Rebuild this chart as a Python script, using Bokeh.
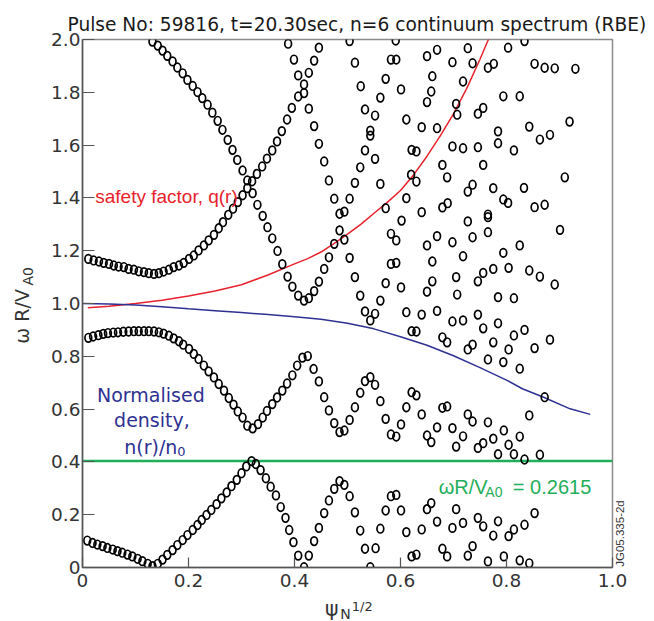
import math
from bokeh.plotting import figure
from bokeh.models import Range1d, Label, FixedTicker
from bokeh.embed import file_html
from bokeh.resources import INLINE

# ---------------- data ----------------
x_ticks = [0, 0.2, 0.4, 0.6, 0.8, 1.0]
x_tick_labels = ["0", "0.2", "0.4", "0.6", "0.8", "1.0"]
y_ticks = [0, 0.2, 0.4, 0.6, 0.8, 1.0, 1.2, 1.4, 1.6, 1.8, 2.0]
y_tick_labels = ["0", "0.2", "0.4", "0.6", "0.8", "1.0", "1.2", "1.4", "1.6", "1.8", "2.0"]

# continuum branch A (starts ~1.17, rises to 2.0)
branch_a_x = [0.011, 0.021, 0.031, 0.040, 0.050, 0.059, 0.068, 0.078, 0.087, 0.097,
              0.106, 0.116, 0.125, 0.135, 0.144, 0.153, 0.163, 0.172, 0.182, 0.191,
              0.201, 0.210, 0.219, 0.229, 0.238, 0.248, 0.257, 0.265, 0.275, 0.284,
              0.293, 0.302, 0.311, 0.320, 0.329, 0.339, 0.348, 0.358, 0.367, 0.376,
              0.386, 0.395, 0.407, 0.418, 0.427, 0.437, 0.446]
branch_a_y = [1.169, 1.163, 1.159, 1.154, 1.150, 1.144, 1.140, 1.138, 1.131, 1.128,
              1.122, 1.119, 1.115, 1.112, 1.115, 1.121, 1.128, 1.138, 1.144, 1.154,
              1.169, 1.182, 1.201, 1.220, 1.239, 1.260, 1.285, 1.308, 1.336, 1.359,
              1.384, 1.410, 1.437, 1.463, 1.491, 1.519, 1.549, 1.580, 1.614, 1.653,
              1.697, 1.741, 1.784, 1.830, 1.874, 1.920, 1.969]

# continuum branch B (falls from 2.0 to ~1.0, rises again)
branch_b_x = [0.132, 0.142, 0.151, 0.160, 0.170, 0.179, 0.189, 0.198, 0.208, 0.217,
              0.226, 0.236, 0.245, 0.255, 0.264, 0.274, 0.283, 0.292, 0.302, 0.311,
              0.321, 0.330, 0.340, 0.349, 0.358, 0.368, 0.377, 0.387, 0.396, 0.407,
              0.418, 0.427, 0.437, 0.446, 0.456, 0.465, 0.475, 0.485, 0.494]
branch_b_y = [1.992, 1.977, 1.958, 1.938, 1.917, 1.894, 1.872, 1.847, 1.824, 1.801,
              1.778, 1.753, 1.723, 1.692, 1.658, 1.620, 1.582, 1.544, 1.504, 1.466,
              1.418, 1.374, 1.332, 1.289, 1.247, 1.199, 1.149, 1.102, 1.064, 1.030,
              1.011, 1.020, 1.047, 1.083, 1.131, 1.175, 1.226, 1.277, 1.242]

# continuum branch C (falls from 2.0 near 0.39)
branch_c_x = [0.388, 0.399, 0.407, 0.418, 0.427, 0.437, 0.446, 0.456, 0.465, 0.475,
              0.485, 0.494]
branch_c_y = [1.984, 1.924, 1.864, 1.797, 1.738, 1.672, 1.605, 1.538, 1.466, 1.397,
              1.340, 1.348]

# continuum branch D (starts ~0.87)
branch_d_x = [0.011, 0.020, 0.030, 0.039, 0.048, 0.058, 0.067, 0.077, 0.087, 0.097,
              0.106, 0.116, 0.125, 0.135, 0.144, 0.153, 0.163, 0.172, 0.182, 0.190,
              0.201, 0.210, 0.219, 0.229, 0.238, 0.248, 0.257, 0.267, 0.276, 0.285,
              0.293, 0.302, 0.311, 0.321, 0.331, 0.340, 0.348, 0.358, 0.367, 0.377,
              0.386, 0.396, 0.405, 0.415, 0.425, 0.436, 0.446, 0.456, 0.465, 0.475,
              0.485, 0.494]
branch_d_y = [0.870, 0.875, 0.880, 0.885, 0.888, 0.890, 0.891, 0.893, 0.894, 0.895,
              0.895, 0.895, 0.895, 0.894, 0.891, 0.886, 0.878, 0.868, 0.857, 0.844,
              0.828, 0.809, 0.790, 0.765, 0.743, 0.720, 0.695, 0.670, 0.642, 0.617,
              0.591, 0.568, 0.537, 0.527, 0.543, 0.568, 0.593, 0.619, 0.644, 0.670,
              0.697, 0.728, 0.765, 0.795, 0.801, 0.752, 0.705, 0.645, 0.595, 0.547,
              0.513, 0.519]

# continuum branch E (starts ~0.10)
branch_e_x = [0.009, 0.019, 0.028, 0.038, 0.047, 0.057, 0.066, 0.075, 0.085, 0.094,
              0.104, 0.113, 0.123, 0.132, 0.142, 0.151, 0.160, 0.170, 0.179, 0.189,
              0.198, 0.208, 0.217, 0.225, 0.234, 0.243, 0.253, 0.262, 0.272, 0.281,
              0.291, 0.300, 0.309, 0.319, 0.327, 0.336, 0.346, 0.355, 0.365, 0.374,
              0.383, 0.390, 0.398, 0.407, 0.418, 0.427, 0.437, 0.446, 0.456, 0.465,
              0.475, 0.485, 0.494, 0.504, 0.514, 0.524, 0.533, 0.543]
branch_e_y = [0.102, 0.093, 0.087, 0.081, 0.074, 0.068, 0.062, 0.056, 0.049, 0.042,
              0.033, 0.024, 0.014, 0.005, 0.014, 0.030, 0.048, 0.066, 0.085, 0.104,
              0.123, 0.142, 0.161, 0.180, 0.199, 0.218, 0.240, 0.262, 0.284, 0.308,
              0.332, 0.357, 0.383, 0.403, 0.392, 0.369, 0.338, 0.306, 0.273, 0.229,
              0.188, 0.142, 0.096, 0.045, 0.001, 0.045, 0.100, 0.150, 0.206, 0.254,
              0.298, 0.327, 0.313, 0.270, 0.209, 0.140, 0.071, 0.001]

# scattered continuum points, upper part
upper_x = [0.504, 0.591, 0.669, 0.650, 0.514, 0.582, 0.592, 0.698, 0.525, 0.572,
           0.601, 0.660, 0.658, 0.650, 0.562, 0.533, 0.552, 0.611, 0.640, 0.669,
           0.705, 0.543, 0.543, 0.533, 0.552, 0.621, 0.630, 0.698, 0.524, 0.514,
           0.562, 0.620, 0.630, 0.679, 0.688, 0.504, 0.572, 0.611, 0.640, 0.679,
           0.689,
           0.727, 0.803, 0.834, 0.736, 0.765, 0.776, 0.853, 0.872, 0.891, 0.930,
           0.718, 0.794, 0.825, 0.707, 0.746, 0.756, 0.919, 0.843, 0.784, 0.882,
           0.863, 0.784, 0.814, 0.718, 0.746, 0.756, 0.910, 0.727, 0.736, 0.775,
           0.833, 0.794, 0.803, 0.853, 0.872, 0.765]
upper_y = [1.994, 1.996, 1.961, 1.937, 1.912, 1.924, 1.924, 1.914, 1.823, 1.851,
           1.811, 1.861, 1.803, 1.763, 1.780, 1.735, 1.712, 1.697, 1.668, 1.664,
           1.756, 1.655, 1.636, 1.580, 1.548, 1.582, 1.576, 1.595, 1.516, 1.457,
           1.453, 1.488, 1.462, 1.525, 1.478, 1.397, 1.361, 1.399, 1.346, 1.364,
           1.380,
           1.967, 1.969, 1.994, 1.910, 1.893, 1.908, 1.908, 1.893, 1.891, 1.889,
           1.841, 1.785, 1.785, 1.715, 1.719, 1.741, 1.689, 1.670, 1.652, 1.639,
           1.621, 1.607, 1.580, 1.588, 1.592, 1.525, 1.478, 1.424, 1.450, 1.437,
           1.438, 1.394, 1.381, 1.365, 1.374, 1.337]

# scattered continuum points, middle part
mid_x = [0.602, 0.582, 0.592, 0.669, 0.650, 0.698, 0.504, 0.582, 0.592, 0.660,
         0.514, 0.572, 0.601, 0.660, 0.650, 0.705, 0.524, 0.562, 0.533, 0.543,
         0.552, 0.611, 0.640, 0.669, 0.698, 0.621, 0.630, 0.679, 0.688,
         0.727, 0.765, 0.765, 0.736, 0.901, 0.718, 0.794, 0.825, 0.746, 0.756,
         0.775, 0.804, 0.843, 0.863, 0.891, 0.707, 0.784, 0.814, 0.718, 0.746,
         0.756, 0.784, 0.727, 0.736, 0.775, 0.814, 0.834, 0.804, 0.853, 0.882,
         0.765, 0.794, 0.825,
         0.504, 0.514, 0.524, 0.533, 0.543, 0.552, 0.562, 0.572, 0.582, 0.592,
         0.601, 0.611, 0.621, 0.630, 0.640, 0.650, 0.658, 0.669, 0.679, 0.688,
         0.698, 0.705,
         0.872, 0.727, 0.736, 0.765, 0.843, 0.718, 0.746, 0.756, 0.775, 0.795,
         0.825, 0.804, 0.784, 0.814, 0.834, 0.863]
mid_y = [1.314, 1.264, 1.239, 1.255, 1.220, 1.232, 1.173, 1.150, 1.154, 1.159,
         1.100, 1.077, 1.061, 1.084, 1.045, 1.100, 1.030, 1.011, 0.970, 0.936,
         0.961, 0.967, 0.958, 0.972, 0.932, 0.895, 0.894, 0.872, 0.853,
         1.311, 1.327, 1.270, 1.251, 1.279, 1.179, 1.192, 1.220, 1.084, 1.116,
         1.131, 1.135, 1.125, 1.102, 1.072, 1.034, 1.024, 1.020, 0.936, 0.958,
         0.906, 0.925, 0.826, 0.844, 0.853, 0.879, 0.900, 0.826, 0.831, 0.863,
         0.788, 0.778, 0.753,
         0.559, 0.607, 0.662, 0.706, 0.721, 0.692, 0.630, 0.563, 0.504, 0.496,
         0.542, 0.607, 0.664, 0.652, 0.580, 0.500, 0.475, 0.531, 0.605, 0.610,
         0.528, 0.458,
         0.645, 0.580, 0.553, 0.550, 0.576, 0.497, 0.453, 0.471, 0.488, 0.519,
         0.496, 0.465, 0.429, 0.429, 0.409, 0.427]

# scattered continuum points, lower part
low_x = [0.553, 0.562, 0.572, 0.582, 0.592, 0.601, 0.611, 0.621, 0.630, 0.640,
         0.650, 0.658, 0.669, 0.679, 0.688, 0.698, 0.705, 0.718, 0.746, 0.756,
         0.784, 0.775, 0.804, 0.814, 0.834, 0.853, 0.727, 0.736, 0.765, 0.795,
         0.825, 0.843]
low_y = [0.073, 0.147, 0.216, 0.270, 0.275, 0.216, 0.134, 0.042, 0.049, 0.144,
         0.221, 0.244, 0.174, 0.071, 0.042, 0.150, 0.221, 0.169, 0.188, 0.156,
         0.175, 0.121, 0.119, 0.144, 0.162, 0.206, 0.045, 0.081, 0.023, 0.042,
         0.027, 0.016]

# safety factor q(r)
q_x = [0.01, 0.05, 0.10, 0.15, 0.20, 0.25, 0.30, 0.35, 0.40, 0.425, 0.45, 0.475,
       0.50, 0.525, 0.55, 0.575, 0.60, 0.625, 0.65, 0.675, 0.70, 0.725, 0.75,
       0.765, 0.78]
q_y = [0.984, 0.990, 1.000, 1.012, 1.028, 1.047, 1.071, 1.108, 1.150, 1.170,
       1.195, 1.228, 1.263, 1.300, 1.342, 1.383, 1.428, 1.488, 1.558, 1.635,
       1.718, 1.815, 1.925, 1.996, 2.07]

# normalised density n(r)/n0
n_x = [0.0, 0.05, 0.10, 0.15, 0.20, 0.25, 0.30, 0.35, 0.40, 0.45, 0.50, 0.55,
       0.60, 0.65, 0.70, 0.75, 0.80, 0.83, 0.87, 0.92, 0.958]
n_y = [1.000, 0.998, 0.994, 0.988, 0.980, 0.973, 0.966, 0.958, 0.950, 0.940,
       0.925, 0.904, 0.874, 0.842, 0.802, 0.757, 0.710, 0.677, 0.645, 0.601,
       0.580]

# frequency of interest (drawn level)
freq_level = 0.403

for a, b in [(branch_a_x, branch_a_y), (branch_b_x, branch_b_y), (branch_c_x, branch_c_y),
             (branch_d_x, branch_d_y), (branch_e_x, branch_e_y), (upper_x, upper_y),
             (mid_x, mid_y), (low_x, low_y), (q_x, q_y), (n_x, n_y)]:
    assert len(a) == len(b)

# ---------------- figure ----------------
RED = "#e8222c"
BLUE = "#2e3192"
GREEN = "#1fae5a"
TXT = "#333333"

p = figure(width=654, height=621, x_range=Range1d(0, 1.0), y_range=Range1d(0, 2.0),
           output_backend="svg", toolbar_location=None,
           min_border_left=82, min_border_right=42, min_border_top=39, min_border_bottom=54)
p.grid.visible = False
p.background_fill_color = "white"
p.border_fill_color = "white"
p.outline_line_color = "#8c8c8c"
p.outline_line_width = 1.5

p.xaxis.ticker = FixedTicker(ticks=x_ticks)
p.yaxis.ticker = FixedTicker(ticks=y_ticks)
p.xaxis.major_label_overrides = {t: s for t, s in zip(x_ticks, x_tick_labels)}
p.yaxis.major_label_overrides = {t: s for t, s in zip(y_ticks, y_tick_labels)}
for ax in (p.xaxis, p.yaxis):
    ax.minor_tick_line_color = None
    ax.major_tick_out = 0
    ax.axis_line_color = "#555555"
    ax.axis_line_width = 1.5
    ax.major_tick_line_color = "#555555"
    ax.major_tick_line_width = 1.2
    ax.major_label_text_font = "DejaVu Sans"
    ax.major_label_text_font_size = "18.5px"
    ax.major_label_text_color = TXT
p.xaxis.major_tick_in = 10
p.yaxis.major_tick_in = 12
p.xaxis.major_label_standoff = 6
p.yaxis.major_label_standoff = 2

# lines
p.line(q_x, q_y, line_color=RED, line_width=1.5)
p.line(n_x, n_y, line_color=BLUE, line_width=1.5)
p.line([0, 1.0], [freq_level, freq_level], line_color=GREEN, line_width=2.5)

# continuum points
for xs, ys in [(branch_a_x, branch_a_y), (branch_b_x, branch_b_y), (branch_c_x, branch_c_y),
               (branch_d_x, branch_d_y), (branch_e_x, branch_e_y), (upper_x, upper_y),
               (mid_x, mid_y), (low_x, low_y)]:
    p.ellipse(x=xs, y=ys, width=6.8, height=8.6, width_units="screen", height_units="screen",
              fill_color=None, line_color="black", line_width=1.7)


def lab(x, y, text, size, color=TXT, font="DejaVu Sans", align="left",
        baseline="alphabetic", angle=0.0, place="center"):
    p.add_layout(Label(x=x, y=y, text=text, text_font=font, text_font_size=size,
                       text_color=color, text_align=align, text_baseline=baseline,
                       angle=angle), place)


# title (in the top panel so the frame does not clip it)
lab(-0.0283, 2.057, "Pulse No: 59816, t=20.30sec, n=6 continuum spectrum (RBE)", "18.6px",
    color="#1a1a1a", place="above")

# annotations inside the plot
lab(0.024, 1.407, "safety factor, q(r)", "19px", color=RED, font="Liberation Sans")
lab(0.129, 0.653, "Normalised", "19px", color=BLUE, align="center")
lab(0.131, 0.557, "density,", "19px", color=BLUE, align="center")
lab(0.0787, 0.456, "n(r)/n", "19px", color=BLUE)
lab(0.179, 0.440, "0", "13px", color=BLUE)
lab(0.672, 0.304, "\u03c9R/V", "20px", color=GREEN, font="Liberation Sans")
lab(0.760, 0.285, "A0", "14px", color=GREEN, font="Liberation Sans")
lab(0.812, 0.304, "= 0.2615", "20px", color=GREEN, font="Liberation Sans")

# axis titles (spread over the side panels, which do not clip)
lab(-0.1140, 0.848, "\u03c9 R/V", "19px", angle=math.pi / 2, place="left")
lab(-0.1020, 1.068, "A0", "14px", angle=math.pi / 2, place="left")
lab(0.4575, -0.159, "\u03c8", "20.5px", place="below")
lab(0.4865, -0.178, "N", "14px", place="right")
lab(0.5080, -0.146, "1/2", "13px", place="above")

# figure reference code
lab(1.0142, 0.1288, "JG05.335-2d", "11.5px", font="Liberation Sans", align="center",
    baseline="middle", angle=math.pi / 2, place="right")

open("out.html", "w").write(file_html(p, INLINE))
